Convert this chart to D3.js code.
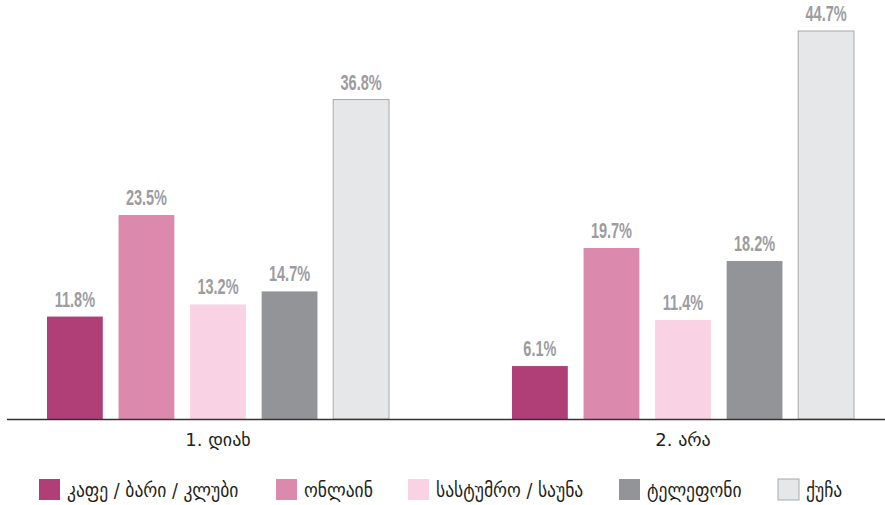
<!DOCTYPE html>
<html>
<head>
<meta charset="utf-8">
<script src="https://cdn.jsdelivr.net/npm/d3@7"></script>
<style>
  body { margin: 0; background: #fff; }
  .value { font-family: "Liberation Sans", Arial, sans-serif; font-weight: bold; font-size: 22px; fill: #9c9c9f; }
  .cat { font-family: "DejaVu Sans", sans-serif; font-size: 18px; fill: #231f20; }
  .legend text { font-family: "DejaVu Sans Condensed", "DejaVu Sans", sans-serif; font-size: 19.5px; fill: #231f20; }
</style>
</head>
<body>
<div id="chart"></div>
<script>
// Chart dimensions
const width = 885;
const height = 505;

// Data
const groups = ["1. დიახ", "2. არა"];
const seriesNames = ["კაფე / ბარი / კლუბი", "ონლაინ", "სასტუმრო / საუნა", "ტელეფონი", "ქუჩა"];
const seriesColors = ["#b03f77", "#dc89ae", "#f9d3e4", "#929497", "#e6e7e8"];
const valuesYes = [11.8, 23.5, 13.2, 14.7, 36.8];
const valuesNo = [6.1, 19.7, 11.4, 18.2, 44.7];
const groupValues = [valuesYes, valuesNo];

const svg = d3.select("#chart").append("svg")
    .attr("width", width)
    .attr("height", height);

// Scales
const x0 = d3.scaleBand()
    .domain(groups)
    .range([47, 854])
    .paddingInner(0.2645)
    .paddingOuter(0);

const x1 = d3.scaleBand()
    .domain(seriesNames)
    .range([0, x0.bandwidth()])
    .paddingInner(0.22)
    .paddingOuter(0);

const y = d3.scaleLinear()
    .domain([0, 44.7])
    .range([419, 31]);

const color = d3.scaleOrdinal().domain(seriesNames).range(seriesColors);

// Bars and value labels
groups.forEach((g, gi) => {
    const gEl = svg.append("g")
        .attr("transform", `translate(${x0(g)},0)`);

    const rows = seriesNames.map((s, i) => ({ name: s, value: groupValues[gi][i] }));

    gEl.selectAll("rect")
        .data(rows)
        .enter()
        .append("rect")
        .attr("x", d => x1(d.name))
        .attr("y", d => y(d.value))
        .attr("width", x1.bandwidth())
        .attr("height", d => y(0) - y(d.value))
        .attr("fill", d => color(d.name))
        .attr("stroke", (d, i) => i === 4 ? "#a7a9ac" : "none")
        .attr("stroke-width", 1);

    // condensed look: squeeze the labels horizontally
    gEl.selectAll("text")
        .data(rows)
        .enter()
        .append("text")
        .attr("class", "value")
        .attr("transform", d => `translate(${x1(d.name) + x1.bandwidth() / 2},${y(d.value) - 10}) scale(0.66,1)`)
        .attr("text-anchor", "middle")
        .text(d => d.value.toFixed(1) + "%");

    svg.append("text")
        .attr("class", "cat")
        .attr("x", x0(g) + x0.bandwidth() / 2)
        .attr("y", 446)
        .attr("text-anchor", "middle")
        .text(g);
});

// Baseline
svg.append("line")
    .attr("x1", 7)
    .attr("x2", width)
    .attr("y1", y(0) + 0.5)
    .attr("y2", y(0) + 0.5)
    .attr("stroke", "#333")
    .attr("stroke-width", 1.5);

// Legend
const legendX = [39, 276, 408, 619, 778];
const legend = svg.append("g").attr("class", "legend");
seriesNames.forEach((s, i) => {
    legend.append("rect")
        .attr("x", legendX[i])
        .attr("y", 479)
        .attr("width", 21)
        .attr("height", 21)
        .attr("fill", color(s))
        .attr("stroke", i === 4 ? "#a7a9ac" : "none");
    legend.append("text")
        .attr("x", legendX[i] + 28)
        .attr("y", 497)
        .text(s);
});
</script>
</body>
</html>
